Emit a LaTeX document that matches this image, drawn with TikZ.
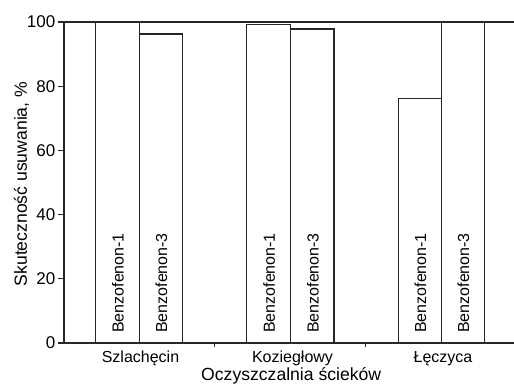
\documentclass[tikz,border=0pt]{standalone}
\usepackage{fontspec}
\setmainfont{Liberation Sans}
\begin{document}
\begin{tikzpicture}[x=1pt,y=-1pt,
  axisline/.style={draw=black!85,line width=1.3pt},
  barbox/.style={draw=black!85,line width=1.4pt,fill=white},
  ticklab/.style={anchor=east,inner sep=0pt,font=\fontsize{17}{17}\selectfont},
  catlab/.style={anchor=base,inner sep=0pt,font=\fontsize{16}{16}\selectfont},
  barlab/.style={rotate=90,anchor=west,inner sep=0pt,font=\fontsize{16}{16}\selectfont},
  titlelab/.style={anchor=base,inner sep=0pt,font=\fontsize{17.6}{17.6}\selectfont}]
\useasboundingbox (0,0) rectangle (514,383);
% scale: y(v) = 343 - 3.21 v
\coordinate (o) at (64,343);
\coordinate (tl) at (64,22);
\coordinate (tr) at (514,22);
\coordinate (br) at (514,343);
% bars
\draw[barbox] (95.3,343) rectangle (139.3,22);
\draw[barbox] (139.3,343) rectangle (182.3,34);
\draw[barbox] (246.7,343) rectangle (290.7,24.7);
\draw[barbox] (290.7,343) rectangle (334,29);
\draw[barbox] (398.3,343) rectangle (441.3,98.3);
\draw[barbox] (441.3,343) rectangle (484.3,22);
% axes
\draw[axisline] (tr) -- (tl) -- (o) -- (br);
% y ticks
\foreach \v/\y in {0/343,20/278.8,40/214.6,60/150.4,80/86.2,100/22}{
  \draw[axisline] (58,\y) -- (64,\y);
  \node[ticklab] (t\v) at (55.5,\y) {\v};
}
% x ticks
\draw[axisline] (214.7,343) -- (214.7,347);
\draw[axisline] (365.7,343) -- (365.7,347);
% bar labels
\node[barlab] (b11) at (117.8,333) {Benzofenon-1};
\node[barlab] (b13) at (161.3,333) {Benzofenon-3};
\node[barlab] (b21) at (269.2,333) {Benzofenon-1};
\node[barlab] (b23) at (312.8,333) {Benzofenon-3};
\node[barlab] (b31) at (420.3,333) {Benzofenon-1};
\node[barlab] (b33) at (463.3,333) {Benzofenon-3};
% categories
\node[catlab] (c1) at (140.5,362) {Szlachęcin};
\node[catlab] (c2) at (292.5,362) {Koziegłowy};
\node[catlab] (c3) at (443,362) {Łęczyca};
% titles
\node[titlelab] (xt) at (291.2,380) {Oczyszczalnia ścieków};
\node[titlelab,rotate=90] (yt) at (27,184) {Skuteczność usuwania, \%};
\end{tikzpicture}
\end{document}
